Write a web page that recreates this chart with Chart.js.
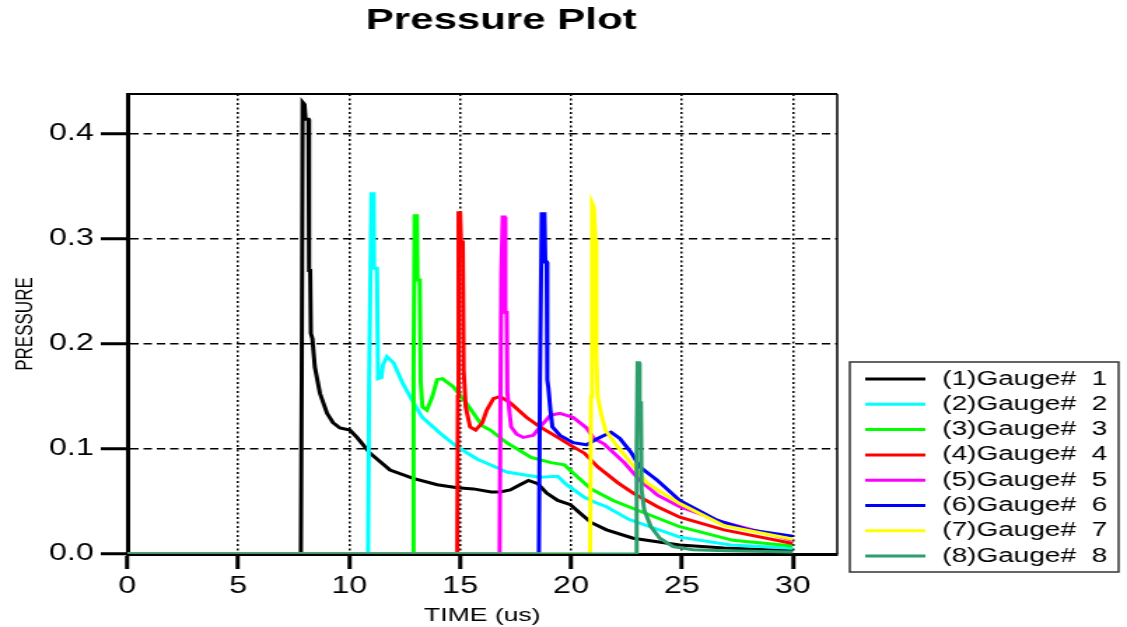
<!DOCTYPE html>
<html>
<head>
<meta charset="utf-8">
<title>Pressure Plot</title>
<script src="https://cdn.jsdelivr.net/npm/chart.js@4.4.1/dist/chart.umd.min.js"></script>
<style>
  html, body { margin: 0; padding: 0; background: #fff; }
  #plot { display: block; }
</style>
</head>
<body>
<!-- drawn at 805 px wide and stretched to 1127 px, like the original export -->
<canvas id="plot" width="805" height="627" style="width:1127px;height:627px"></canvas>
<script>
const chartTitle = 'Pressure Plot';
const xTitle = 'TIME (us)';
const yTitle = 'PRESSURE';
const xTicks = [0, 5, 10, 15, 20, 25, 30];
const yTicks = [0.0, 0.1, 0.2, 0.3, 0.4];

const gaugeNames = ['(1)Gauge#  1', '(2)Gauge#  2', '(3)Gauge#  3', '(4)Gauge#  4',
                    '(5)Gauge#  5', '(6)Gauge#  6', '(7)Gauge#  7', '(8)Gauge#  8'];
const gaugeColors = ['#000000', '#00ffff', '#00ff00', '#ff0000', '#ff00ff', '#0000ff', '#ffff00', '#2e9e6c'];

// time (us) / pressure pairs
const g1Time = [0, 7.82, 7.86, 7.9, 7.98, 8.03, 8.16, 8.19, 8.24, 8.27, 8.34, 8.45, 8.68, 9.0, 9.27, 9.58, 10.03, 10.35, 10.94, 11.84,
                12.88, 13.97, 14.87, 15.6, 16.4, 16.8, 17.26, 17.7, 18.08, 18.5, 18.9, 19.4, 19.97, 20.4, 20.9, 21.6, 22.8, 24.9, 26.9, 30];
const g1Pres = [0, 0, 0.177, 0.43, 0.428, 0.414, 0.414, 0.27, 0.27, 0.21, 0.205, 0.178, 0.153, 0.134, 0.125, 0.12, 0.118, 0.111, 0.096, 0.080,
                0.072, 0.066, 0.063, 0.062, 0.059, 0.059, 0.061, 0.066, 0.070, 0.067, 0.058, 0.051, 0.047, 0.039, 0.030, 0.023, 0.015, 0.0086, 0.0057, 0.003];

const g2Time = [0, 10.85, 10.9, 11.0, 11.1, 11.12, 11.25, 11.3, 11.45, 11.52, 11.7, 12.0, 12.4, 12.9, 13.3, 14.1, 14.87, 15.8, 16.36, 17.1,
                18.0, 18.6, 19.4, 19.8, 20.6, 21.1, 21.6, 22.6, 24.9, 27.2, 30];
const g2Pres = [0, 0, 0.166, 0.343, 0.343, 0.272, 0.272, 0.167, 0.168, 0.18, 0.188, 0.182, 0.163, 0.144, 0.13, 0.115, 0.102, 0.09, 0.085, 0.078,
                0.075, 0.073, 0.074, 0.066, 0.054, 0.049, 0.045, 0.033, 0.016, 0.0086, 0.0055];

const g3Time = [0, 12.88, 12.9, 12.95, 13.05, 13.08, 13.18, 13.22, 13.3, 13.5, 13.75, 13.96, 14.2, 14.7, 15.3, 16.0, 16.36, 17.1, 18.2, 19.1,
                19.7, 20.1, 20.9, 21.9, 22.6, 24.9, 27.3, 30];
const g3Pres = [0, 0, 0.175, 0.322, 0.322, 0.261, 0.261, 0.165, 0.14, 0.137, 0.15, 0.166, 0.167, 0.159, 0.143, 0.122, 0.118, 0.106, 0.092, 0.087,
                0.085, 0.077, 0.062, 0.051, 0.045, 0.026, 0.013, 0.0076];

const g4Time = [0, 14.87, 14.9, 14.93, 15.0, 15.04, 15.12, 15.16, 15.25, 15.45, 15.7, 16.0, 16.2, 16.5, 16.8, 17.26, 18.0, 18.6, 19.4, 20.1,
                20.6, 21.2, 22.1, 22.8, 23.9, 24.9, 26.9, 30];
const g4Pres = [0, 0, 0.15, 0.325, 0.325, 0.297, 0.297, 0.175, 0.14, 0.121, 0.118, 0.125, 0.137, 0.148, 0.15, 0.144, 0.13, 0.121, 0.111, 0.102,
                0.096, 0.083, 0.068, 0.058, 0.045, 0.035, 0.023, 0.010];

const g5Time = [0, 16.78, 16.82, 16.86, 16.92, 17.0, 17.04, 17.1, 17.13, 17.2, 17.3, 17.55, 17.85, 18.3, 18.6, 19.07, 19.5, 20.1, 20.7, 21.03,
                21.48, 22.4, 23.1, 23.9, 24.9, 26.9, 30];
const g5Pres = [0, 0, 0.153, 0.27, 0.321, 0.321, 0.23, 0.23, 0.153, 0.14, 0.121, 0.114, 0.111, 0.113, 0.121, 0.132, 0.134, 0.13, 0.12, 0.110,
                0.105, 0.087, 0.07, 0.056, 0.045, 0.03, 0.013];

const g6Time = [0, 18.55, 18.6, 18.68, 18.8, 18.84, 18.9, 18.93, 18.98, 19.07, 19.16, 19.5, 20.1, 20.7, 21.2, 21.8, 22.2, 22.7, 23.1, 23.9,
                24.9, 26.6, 28.0, 30];
const g6Pres = [0, 0, 0.166, 0.324, 0.324, 0.278, 0.278, 0.166, 0.158, 0.137, 0.121, 0.113, 0.106, 0.104, 0.11, 0.116, 0.11, 0.097, 0.083, 0.07,
                0.051, 0.032, 0.023, 0.017];

const g7Time = [0, 20.86, 20.9, 20.95, 21.03, 21.1, 21.14, 21.2, 21.35, 21.55, 22.1, 22.7, 23.4, 23.9, 24.9, 26.9, 30];
const g7Pres = [0, 0, 0.15, 0.334, 0.33, 0.30, 0.19, 0.15, 0.134, 0.118, 0.102, 0.087, 0.068, 0.061, 0.048, 0.027, 0.014];

const g8Time = [0, 22.93, 22.96, 23.0, 23.06, 23.09, 23.15, 23.18, 23.3, 23.6, 24.0, 24.6, 25.5, 27.0, 30];
const g8Pres = [0, 0, 0.1, 0.182, 0.182, 0.144, 0.144, 0.061, 0.042, 0.026, 0.015, 0.007, 0.004, 0.003, 0.002];

const gaugeTimes = [g1Time, g2Time, g3Time, g4Time, g5Time, g6Time, g7Time, g8Time];
const gaugePres = [g1Pres, g2Pres, g3Pres, g4Pres, g5Pres, g6Pres, g7Pres, g8Pres];

Chart.defaults.font.family = '"Liberation Sans", Arial, sans-serif';
Chart.defaults.color = '#000';

const datasets = gaugeNames.map((name, i) => ({
  label: name,
  data: gaugeTimes[i].map((t, j) => ({ x: t, y: gaugePres[i][j] })),
  borderColor: gaugeColors[i],
  backgroundColor: gaugeColors[i],
  borderWidth: 3,
  pointRadius: 0,
  tension: 0,
  order: gaugeNames.length - i   // later gauges on top
}));

// title, frame top/right and the boxed legend
const decorations = {
  id: 'decorations',
  afterDraw(chart) {
    const { ctx, chartArea: area } = chart;
    ctx.save();
    ctx.strokeStyle = '#000';
    ctx.lineWidth = 2;
    ctx.beginPath();
    ctx.moveTo(area.left, area.top);
    ctx.lineTo(area.right, area.top);
    ctx.stroke();
    ctx.lineWidth = 1.5;
    ctx.beginPath();
    ctx.moveTo(area.right, area.top);
    ctx.lineTo(area.right, area.bottom);
    ctx.stroke();

    ctx.fillStyle = '#000';
    ctx.font = 'bold 30px "Liberation Sans", Arial, sans-serif';
    ctx.textAlign = 'center';
    ctx.textBaseline = 'middle';
    ctx.fillText(chartTitle, 358, 21);

    ctx.lineWidth = 1.5;
    ctx.strokeStyle = '#333';
    ctx.strokeRect(607, 362, 192, 210);
    ctx.font = '20px "Liberation Sans", Arial, sans-serif';
    ctx.textAlign = 'left';
    chart.data.datasets.forEach((ds, i) => {
      const y = 379 + i * 25.3;
      ctx.strokeStyle = ds.borderColor;
      ctx.lineWidth = 3;
      ctx.beginPath();
      ctx.moveTo(618, y);
      ctx.lineTo(661, y);
      ctx.stroke();
      ctx.fillStyle = '#000';
      ctx.fillText(ds.label, 673, y);
    });
    ctx.restore();
  }
};

new Chart(document.getElementById('plot'), {
  type: 'line',
  data: { datasets },
  plugins: [decorations],
  options: {
    responsive: false,
    devicePixelRatio: 1,
    animation: false,
    layout: { padding: { top: 94, right: 207, bottom: 0, left: 0 } },
    plugins: { legend: { display: false }, title: { display: false }, tooltip: { enabled: false } },
    scales: {
      x: {
        type: 'linear', min: 0, max: 32,
        afterFit: s => { s.height = 73; },
        afterBuildTicks: s => { s.ticks = xTicks.map(v => ({ value: v })); },
        ticks: { color: '#000', font: { size: 23 }, padding: 4, autoSkip: false, maxRotation: 0, callback: v => String(v) },
        grid: { color: '#000', lineWidth: 1.5, tickLength: 15, tickWidth: 3, tickColor: '#000', tickBorderDash: [] },
        border: { display: true, color: '#000', width: 3, dash: [2, 2.5] },
        title: { display: true, text: xTitle, color: '#000', font: { size: 19 }, padding: { top: 0, bottom: 0 } }
      },
      y: {
        type: 'linear', min: 0, max: 0.438,
        afterFit: s => { s.width = 91; },
        afterBuildTicks: s => { s.ticks = yTicks.map(v => ({ value: v })); },
        ticks: { color: '#000', font: { size: 23 }, padding: 5, autoSkip: false, callback: v => v.toFixed(1) },
        grid: { color: '#000', lineWidth: 1.5, tickLength: 19, tickWidth: 3, tickColor: '#000', tickBorderDash: [] },
        border: { display: true, color: '#000', width: 3, dash: [6, 3.5] },
        title: { display: true, text: yTitle, color: '#000', font: { size: 17 }, padding: { top: 8, bottom: 0 } }
      }
    }
  }
});
</script>
</body>
</html>
